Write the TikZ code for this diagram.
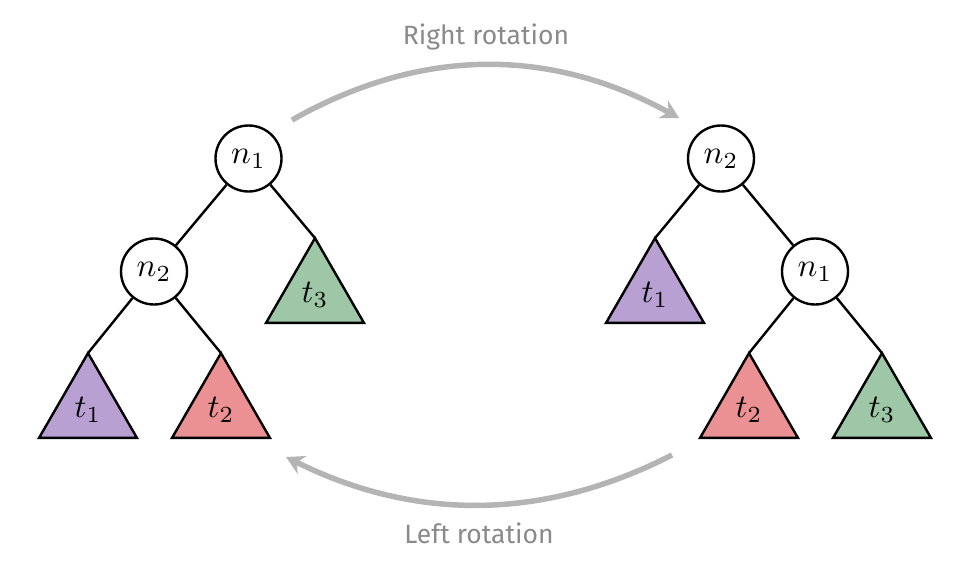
\documentclass[tikz,border=0pt]{standalone}
\usepackage{fontspec}
\usepackage{graphicx}
\setmainfont{Fira Sans}
\usetikzlibrary{shapes.geometric,arrows.meta}
\newcommand{\mlabel}[1]{\scalebox{3.3}{$#1$}}
\definecolor{cpurple}{HTML}{B9A0D3}
\definecolor{cred}{HTML}{EB9194}
\definecolor{cgreen}{HTML}{9DC7A6}
\definecolor{carrow}{HTML}{B4B4B4}
\definecolor{clabel}{HTML}{8A8A8A}
\begin{document}
\begin{tikzpicture}[x=1pt,y=-1pt,
  treenode/.style={circle,draw,line width=2.4pt,fill=white,minimum size=66pt,inner sep=0pt},
  subtree/.style={regular polygon,regular polygon sides=3,draw,line width=2.4pt,
    minimum size=113pt,inner sep=0pt,outer sep=0pt},
  edge/.style={line width=2.4pt},
  rot/.style={line width=5.5pt,draw=carrow,-{Stealth[length=18pt,width=20pt,inset=6pt]}},
  rotlabel/.style={text=clabel,font=\fontsize{26.5}{32}\selectfont}]
\useasboundingbox (0,0) rectangle (980,568);
% left tree
\node[treenode] (L1) at (248.5,158.5) {\mlabel{n_1}};
\node[treenode] (L2) at (154,271.5) {\mlabel{n_2}};
\node[subtree,fill=cgreen] (L3) at (315,294.6) {\mlabel{t_3}};
\node[subtree,fill=cpurple] (Lt1) at (88,409.6) {\mlabel{t_1}};
\node[subtree,fill=cred] (Lt2) at (221,409.6) {\mlabel{t_2}};
\draw[edge] (L1) -- (L2);
\draw[edge] (L1) -- (L3.corner 1);
\draw[edge] (L2) -- (Lt1.corner 1);
\draw[edge] (L2) -- (Lt2.corner 1);
% right tree
\node[treenode] (R2) at (721,158.5) {\mlabel{n_2}};
\node[treenode] (R1) at (815,271.5) {\mlabel{n_1}};
\node[subtree,fill=cpurple] (Rt1) at (655,294.6) {\mlabel{t_1}};
\node[subtree,fill=cred] (Rt2) at (749,409.6) {\mlabel{t_2}};
\node[subtree,fill=cgreen] (Rt3) at (882,409.6) {\mlabel{t_3}};
\draw[edge] (R2) -- (R1);
\draw[edge] (R2) -- (Rt1.corner 1);
\draw[edge] (R1) -- (Rt2.corner 1);
\draw[edge] (R1) -- (Rt3.corner 1);
% rotation arrows
\coordinate (ta) at (292,120);
\coordinate (tb) at (679,118);
\coordinate (ba) at (672,455);
\coordinate (bb) at (286,457);
\draw[rot] (ta) .. controls (421,47) and (550,47) .. (tb);
\draw[rot] (ba) .. controls (543,521) and (415,521) .. (bb);
\node[rotlabel] (rl) at (486,37) {Right rotation};
\node[rotlabel] (ll) at (479,533) {Left rotation};
\end{tikzpicture}
\end{document}
